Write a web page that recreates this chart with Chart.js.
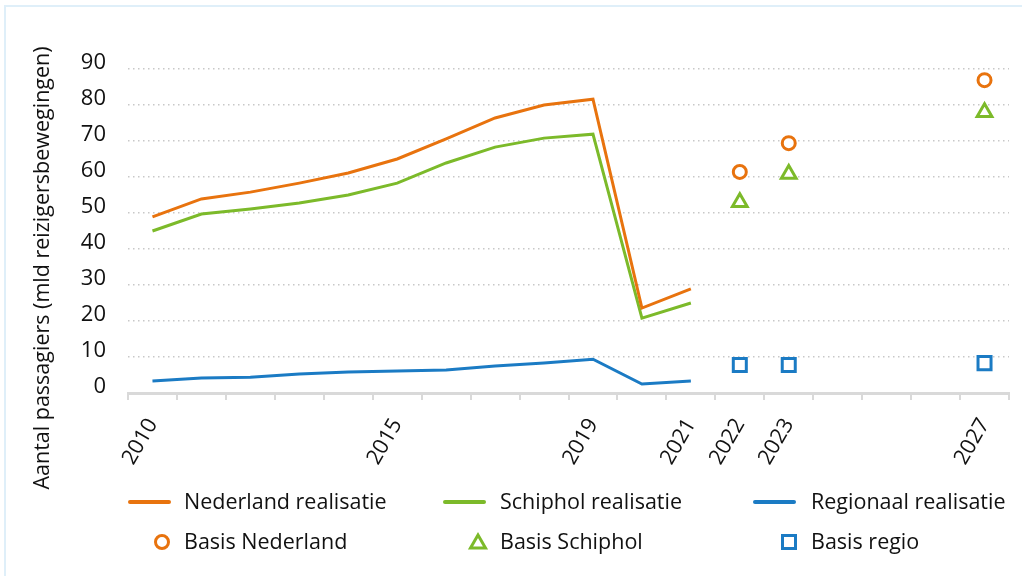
<!DOCTYPE html>
<html>
<head>
<meta charset="utf-8">
<script src="https://cdn.jsdelivr.net/npm/chart.js@4/dist/chart.umd.min.js"></script>
<style>
  html, body { margin: 0; padding: 0; background: #fff; overflow: hidden; }
  #wrap { position: relative; width: 1022px; height: 576px; }
  #card { position: absolute; left: 4px; top: 5px; width: 1040px; height: 620px; border: 2px solid #dfeff9; box-sizing: border-box; }
  canvas { position: absolute; left: 0; top: 0; }
</style>
</head>
<body>
<div id="wrap">
  <div id="card"></div>
  <canvas id="chart" width="1022" height="576"></canvas>
</div>
<script>
// jaren op de x-as
const years = ['2010', '2011', '2012', '2013', '2014', '2015', '2016', '2017', '2018',
               '2019', '2020', '2021', '2022', '2023', '2024', '2025', '2026', '2027'];
const shownYears = ['2010', '2015', '2019', '2021', '2022', '2023', '2027'];
const yTicks = [0, 10, 20, 30, 40, 50, 60, 70, 80, 90];

// realisatie 2010-2021 (mld reizigersbewegingen)
const nederland = [48.9, 53.9, 55.8, 58.3, 61.1, 65.0, 70.6, 76.4, 80.0, 81.6, 23.6, 28.9];
const schiphol  = [45.0, 49.7, 51.1, 52.8, 55.0, 58.3, 63.9, 68.3, 70.8, 71.9, 20.8, 25.0];
const regionaal = [3.3, 4.2, 4.4, 5.3, 5.8, 6.1, 6.4, 7.5, 8.3, 9.4, 2.5, 3.3];

// basisprognoses
const basisYears = ['2022', '2023', '2027'];
const basisNederland = [61.4, 69.4, 86.9];
const basisSchiphol  = [53.0, 60.8, 78.0];
const basisRegio     = [7.8, 7.8, 8.3];

const ORANJE = '#e8730e';
const GROEN = '#7cba2a';
const BLAUW = '#1b7bc4';
const FONT = '"Open Sans", "Noto Sans", sans-serif';
const TEXT = '#111';

function basisPoints(vals) {
    return basisYears.map((y, i) => ({ x: y, y: vals[i] }));
}

// legenda in drie kolommen, twee rijen
const gridLegend = {
    id: 'gridLegend',
    afterDraw(chart) {
        const ctx = chart.ctx;
        const lineX = [128, 443, 753];
        const textX = [184, 500, 811];
        const rowY = [502, 542];
        ctx.save();
        chart.data.datasets.forEach((ds, i) => {
            const col = i % 3, row = Math.floor(i / 3);
            const y = rowY[row];
            ctx.strokeStyle = ds.borderColor;
            if (ds.showLine !== false) {
                ctx.lineWidth = 4;
                ctx.lineCap = 'round';
                ctx.beginPath();
                ctx.moveTo(lineX[col] + 2, y);
                ctx.lineTo(lineX[col] + 41, y);
                ctx.stroke();
            } else {
                const cx = textX[col] - 22;
                ctx.lineWidth = 3;
                ctx.lineCap = 'butt';
                ctx.beginPath();
                if (ds.pointStyle === 'circle') {
                    ctx.arc(cx, y, 6.5, 0, Math.PI * 2);
                } else if (ds.pointStyle === 'triangle') {
                    ctx.moveTo(cx, y - 7);
                    ctx.lineTo(cx + 7.5, y + 6);
                    ctx.lineTo(cx - 7.5, y + 6);
                    ctx.closePath();
                } else {
                    ctx.rect(cx - 6.5, y - 6.5, 13, 13);
                }
                ctx.stroke();
            }
            ctx.fillStyle = TEXT;
            ctx.font = '21.5px ' + FONT;
            ctx.textBaseline = 'middle';
            ctx.textAlign = 'left';
            ctx.fillText(ds.label, textX[col], y + 1);
        });

        // y-as titel
        ctx.translate(43, 268);
        ctx.rotate(-Math.PI / 2);
        ctx.font = '21.5px ' + FONT;
        ctx.textAlign = 'center';
        ctx.textBaseline = 'middle';
        ctx.fillText('Aantal passagiers (mld reizigersbewegingen)', 0, 0);
        ctx.restore();
    }
};

new Chart(document.getElementById('chart'), {
    type: 'line',
    data: {
        labels: years,
        datasets: [
            { label: 'Nederland realisatie', data: nederland, borderColor: ORANJE, borderWidth: 3, pointRadius: 0 },
            { label: 'Schiphol realisatie', data: schiphol, borderColor: GROEN, borderWidth: 3, pointRadius: 0 },
            { label: 'Regionaal realisatie', data: regionaal, borderColor: BLAUW, borderWidth: 3, pointRadius: 0 },
            { label: 'Basis Nederland', data: basisPoints(basisNederland), showLine: false, borderColor: ORANJE, backgroundColor: '#fff',
              pointStyle: 'circle', pointRadius: 6.5, pointBorderWidth: 3, pointBackgroundColor: '#fff' },
            { label: 'Basis Schiphol', data: basisPoints(basisSchiphol), showLine: false, borderColor: GROEN, backgroundColor: '#fff',
              pointStyle: 'triangle', pointRadius: 8.5, pointBorderWidth: 3, pointBackgroundColor: '#fff' },
            { label: 'Basis regio', data: basisPoints(basisRegio), showLine: false, borderColor: BLAUW, backgroundColor: '#fff',
              pointStyle: 'rect', pointRadius: 9.2, pointBorderWidth: 3, pointBackgroundColor: '#fff' }
        ]
    },
    options: {
        responsive: false,
        animation: false,
        layout: { padding: { top: 69, right: 13, bottom: 96, left: 0 } },
        plugins: { legend: { display: false }, tooltip: { enabled: false } },
        elements: { line: { tension: 0 } },
        scales: {
            x: {
                type: 'category',
                offset: true,
                afterFit: (s) => { s.height = 87; },
                grid: { display: true, offset: true, drawOnChartArea: false, drawTicks: true, tickLength: 7, color: '#d9d9d9', lineWidth: 2 },
                border: { display: true, color: '#d9d9d9', width: 3 },
                ticks: {
                    autoSkip: false, maxRotation: 60, minRotation: 60, padding: 14,
                    color: TEXT, font: { family: FONT, size: 21.5 },
                    callback: function (v) {
                        const lbl = this.getLabelForValue(v);
                        return shownYears.includes(lbl) ? lbl : '';
                    }
                }
            },
            y: {
                min: 0, max: 90,
                afterFit: (s) => { s.width = 128; },
                afterBuildTicks: (s) => { s.ticks = yTicks.map(v => ({ value: v })); },
                grid: { color: (c) => c.tick && c.tick.value === 0 ? 'rgba(0,0,0,0)' : '#c8c8c8', lineWidth: 1.5, drawTicks: false },
                border: { display: false, dash: [1.5, 3.5] },
                ticks: { padding: 22, labelOffset: -6, color: TEXT, font: { family: FONT, size: 22 } }
            }
        }
    },
    plugins: [gridLegend]
});
</script>
</body>
</html>
